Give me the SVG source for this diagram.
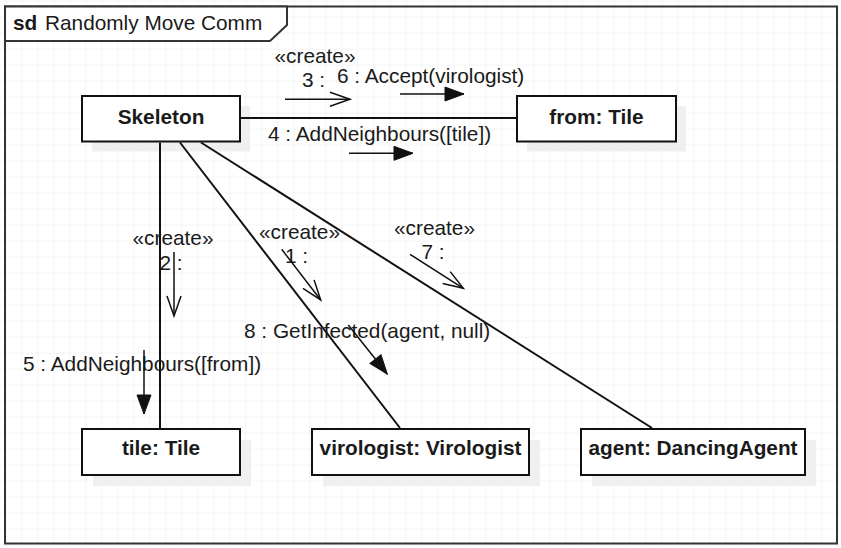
<svg xmlns="http://www.w3.org/2000/svg" width="841" height="548" viewBox="0 0 841 548">
  <defs>
    <pattern id="grid" x="5.3" y="0.7" width="16" height="16" patternUnits="userSpaceOnUse">
      <path d="M0,0 H16 M0,0 V16" fill="none" stroke="#ebebeb" stroke-width="1"/>
    </pattern>
    <marker id="open" markerUnits="userSpaceOnUse" markerWidth="24" markerHeight="18" refX="20" refY="7" orient="auto" overflow="visible">
      <path d="M0,0 L20,7 L0,14" fill="none" stroke="#111" stroke-width="1.5"/>
    </marker>
    <marker id="filled" markerUnits="userSpaceOnUse" markerWidth="24" markerHeight="18" refX="19" refY="7" orient="auto" overflow="visible">
      <path d="M0,0 L19,7 L0,14 Z" fill="#111" stroke="#111" stroke-width="1"/>
    </marker>
  </defs>
  <style>
    text { font-family: "Liberation Sans", Arial, sans-serif; font-size: 20.8px; fill: #1a1a1a; }
    .node rect.box { fill: #ffffff; stroke: #111; stroke-width: 2; }
    .node rect.shadow { fill: #efefef; stroke: none; }
    .node text { font-weight: bold; text-anchor: middle; }
    .conn line { stroke: #111; stroke-width: 2; }
    .msg line { stroke: #111; stroke-width: 1.5; fill: none; }
    .msg text.c { text-anchor: middle; }
  </style>

  <rect x="0" y="0" width="841" height="548" fill="#ffffff"/>
  <rect x="0" y="0" width="841" height="548" fill="url(#grid)"/>

  <g id="frame">
    <rect x="5" y="6.5" width="832" height="537" fill="none" stroke="#333" stroke-width="2"/>
    <polygon points="5,6.5 287,6.5 287,25 270,41 5,41" fill="#ffffff" stroke="#333" stroke-width="2"/>
    <text x="13" y="29.5" font-weight="bold">sd</text>
    <text x="45" y="29.5">Randomly Move Comm</text>
  </g>

  <g id="skeleton" class="node">
    <rect class="shadow" x="92" y="106" width="158" height="45.5"/>
    <rect class="box" x="82" y="96" width="158" height="45.5"/>
    <text x="161" y="124">Skeleton</text>
  </g>

  <g id="from" class="node">
    <rect class="shadow" x="527" y="106" width="159" height="45.5"/>
    <rect class="box" x="517" y="96" width="159" height="45.5"/>
    <text x="596.5" y="124">from: Tile</text>
  </g>

  <g id="tile" class="node">
    <rect class="shadow" x="93" y="440" width="158" height="46"/>
    <rect class="box" x="82" y="429" width="158" height="46"/>
    <text x="161" y="455">tile: Tile</text>
  </g>

  <g id="virologist" class="node">
    <rect class="shadow" x="323" y="440" width="217" height="46"/>
    <rect class="box" x="312" y="429" width="217" height="46"/>
    <text x="420.5" y="455">virologist: Virologist</text>
  </g>

  <g id="agent" class="node">
    <rect class="shadow" x="592" y="440" width="224" height="46"/>
    <rect class="box" x="581" y="429" width="224" height="46"/>
    <text x="693" y="455">agent: DancingAgent</text>
  </g>

  <g id="connectors" class="conn">
    <line x1="241" y1="118" x2="516" y2="118"/>
    <line x1="160" y1="142.5" x2="160" y2="428"/>
    <line x1="180" y1="142.5" x2="400" y2="428"/>
    <line x1="201" y1="142.5" x2="652" y2="428"/>
  </g>

  <g id="messages" class="msg">
    <text class="c" x="315" y="63">«create»</text>
    <text x="302" y="87">3 :</text>
    <line x1="285" y1="99.3" x2="350" y2="99.3" marker-end="url(#open)"/>

    <text x="337" y="82.5">6 : Accept(virologist)</text>
    <line x1="400" y1="94" x2="464" y2="94" marker-end="url(#filled)"/>

    <text x="268" y="141">4 : AddNeighbours([tile])</text>
    <line x1="349" y1="153.3" x2="413" y2="153.3" marker-end="url(#filled)"/>

    <text class="c" x="173" y="245">«create»</text>
    <text x="159.5" y="270">2 :</text>
    <line x1="174" y1="252" x2="174" y2="316" marker-end="url(#open)"/>

    <text class="c" x="299.5" y="238.5">«create»</text>
    <text x="285" y="263">1 :</text>
    <line x1="281.7" y1="249.3" x2="320.7" y2="300" marker-end="url(#open)"/>

    <text class="c" x="434.5" y="235">«create»</text>
    <text x="421.5" y="258.5">7 :</text>
    <line x1="410" y1="254.3" x2="463.3" y2="288.3" marker-end="url(#open)"/>

    <text x="244" y="338">8 : GetInfected(agent, null)</text>
    <line x1="348.3" y1="325" x2="387.3" y2="374" marker-end="url(#filled)"/>

    <text x="23" y="371">5 : AddNeighbours([from])</text>
    <line x1="144" y1="350" x2="144" y2="414" marker-end="url(#filled)"/>
  </g>
</svg>
